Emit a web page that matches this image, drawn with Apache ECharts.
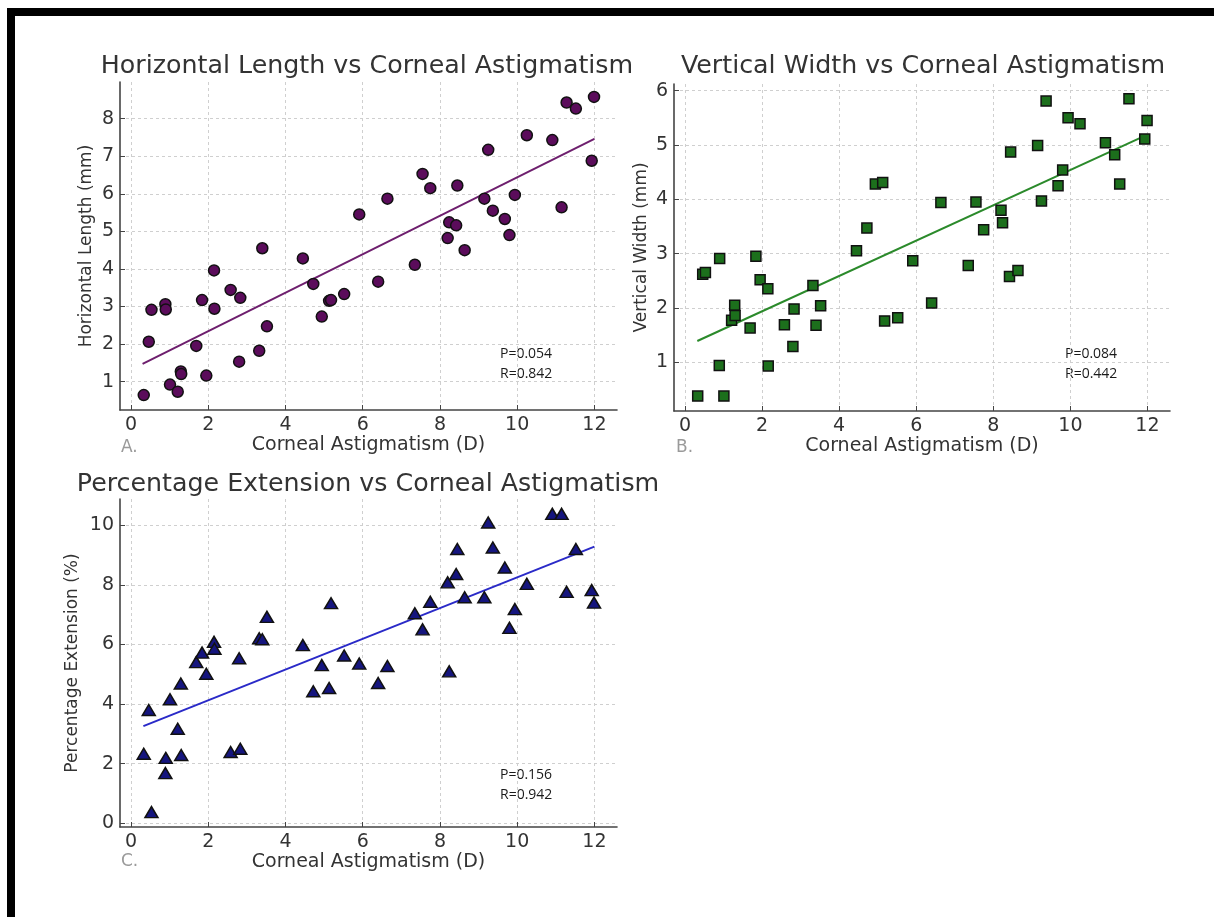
<!DOCTYPE html>
<html>
<head>
<meta charset="utf-8">
<title>Corneal Astigmatism</title>
<script src="https://cdn.jsdelivr.net/npm/echarts@6.0.0/dist/echarts.min.js"></script>
<style>
  html, body { margin: 0; padding: 0; background: #fff; }
  #chart { width: 1214px; height: 917px; }
</style>
</head>
<body>
<div id="chart"></div>
<script>
// Corneal astigmatism (D), shared by the three panels
const astigmatism = [0.33, 0.46, 0.53, 0.89, 0.90, 1.01, 1.21, 1.29, 1.30, 1.69,
  1.84, 1.95, 2.15, 2.16, 2.58, 2.80, 2.83, 3.32, 3.40, 3.52,
  4.45, 4.72, 4.94, 5.13, 5.18, 5.52, 5.91, 6.40, 6.64, 7.35,
  7.55, 7.75, 8.20, 8.24, 8.42, 8.45, 8.64, 9.15, 9.25, 9.37,
  9.68, 9.80, 9.94, 10.25, 10.91, 11.15, 11.28, 11.52, 11.93, 11.99];

const horizontalLength = [0.64, 2.06, 2.91, 3.06, 2.92, 0.92, 0.73, 1.27, 1.20, 1.95,
  3.17, 1.16, 3.96, 2.94, 3.44, 1.53, 3.23, 1.82, 4.55, 2.47,
  4.28, 3.60, 2.73, 3.15, 3.17, 3.33, 5.45, 3.66, 5.87, 4.11,
  6.53, 6.15, 4.82, 5.24, 5.16, 6.22, 4.50, 5.87, 7.17, 5.55,
  5.33, 4.90, 5.97, 7.56, 7.43, 5.64, 8.43, 8.27, 6.88, 8.58];

const verticalWidth = [0.375, 2.62, 2.65, 0.94, 2.91, 0.375, 1.77, 2.05, 1.86, 1.63,
  2.95, 2.52, 2.35, 0.93, 1.69, 1.29, 1.98, 2.41, 1.68, 2.04,
  3.05, 3.47, 4.28, 4.31, 1.76, 1.82, 2.87, 2.09, 3.94, 2.78,
  3.95, 3.44, 3.80, 3.57, 2.58, 4.87, 2.69, 4.99, 3.97, 5.81,
  4.25, 4.54, 5.50, 5.39, 5.04, 4.82, 4.28, 5.85, 5.11, 5.45];

const percentExtension = [2.33, 3.80, 0.37, 1.68, 2.19, 4.16, 3.17, 4.69, 2.29, 5.41,
  5.73, 5.02, 6.09, 5.86, 2.39, 5.54, 2.50, 6.21, 6.18, 6.93,
  5.98, 4.43, 5.31, 4.54, 7.39, 5.63, 5.36, 4.71, 5.28, 7.05,
  6.51, 7.44, 8.09, 5.10, 8.37, 9.21, 7.59, 7.59, 10.10, 9.26,
  8.59, 6.56, 7.19, 8.04, 10.39, 10.39, 7.77, 9.21, 7.83, 7.41];

// fitted line ends
const trendHorizontal = [[0.30, 1.47], [12.0, 7.46]];
const trendVertical = [[0.32, 1.39], [12.0, 5.19]];
const trendPercent = [[0.32, 3.26], [12.0, 9.29]];

// tick labels
const xTicks = [0, 2, 4, 6, 8, 10, 12];
const yTicksHorizontal = [1, 2, 3, 4, 5, 6, 7, 8];
const yTicksVertical = [1, 2, 3, 4, 5, 6];
const yTicksPercent = [0, 2, 4, 6, 8, 10];

const stats = {
  A: "P=0.054\nR=0.842",
  B: "P=0.084\nR=0.442",
  C: "P=0.156\nR=0.942",
};

const FONT = "DejaVu Sans";
const TEXT = "#333";

const zip = (xs, ys) => xs.map((x, i) => [x, ys[i]]);

const makeAxis = (gridIndex, min, max, ticks, extra) => ({
  type: "value",
  gridIndex,
  min,
  max,
  axisLine: { show: true, onZero: false, lineStyle: { color: "#444", width: 1.6 } },
  axisTick: { show: true, inside: true, length: 5, customValues: ticks, lineStyle: { color: "#444" } },
  axisLabel: { customValues: ticks, color: TEXT, fontFamily: FONT, fontSize: 19, margin: 6 },
  splitLine: { show: true, lineStyle: { color: "#cfcfcf", type: [3, 3], width: 1 } },
  nameLocation: "middle",
  nameTextStyle: { color: TEXT, fontFamily: FONT, fontSize: 17 },
  ...extra,
});

const xName = { name: "Corneal Astigmatism (D)", nameGap: 26, nameTextStyle: { color: TEXT, fontFamily: FONT, fontSize: 19 } };

const scatter = (i, data, symbol, size, fill) => ({
  type: "scatter",
  xAxisIndex: i,
  yAxisIndex: i,
  data,
  symbol,
  symbolSize: size,
  itemStyle: { color: fill, borderColor: "#111", borderWidth: 1.5, opacity: 1 },
  z: 3,
});

const trend = (i, data, color) => ({
  type: "line",
  xAxisIndex: i,
  yAxisIndex: i,
  data,
  symbol: "none",
  lineStyle: { color, width: 2 },
  z: 2,
});

const title = (text, x, y) => ({
  type: "text",
  x,
  y,
  style: { text, fill: TEXT, font: `25.3px "${FONT}"`, textAlign: "center", textVerticalAlign: "middle" },
});

const panelLetter = (text, x, y) => ({
  type: "text",
  x,
  y,
  style: { text, fill: "#9a9a9a", font: `17px "${FONT}"`, textVerticalAlign: "middle" },
});

const statBox = (text, x, y, w, h) => ({
  type: "group",
  z: 100,
  children: [
    { type: "rect", shape: { x, y, width: w, height: h }, style: { fill: "#fff" } },
    {
      type: "text",
      x: x + 13,
      y: y + 7,
      style: { text, fill: "#1a1a1a", font: '14px "Open Sans"', lineHeight: 20 },
    },
  ],
});

const chart = echarts.init(document.getElementById("chart"), null, { renderer: "canvas" });

chart.setOption({
  backgroundColor: "#fff",
  animation: false,
  grid: [
    { left: 120, top: 82, width: 497, height: 328 },
    { left: 674, top: 84, width: 496, height: 327 },
    { left: 120, top: 499, width: 497, height: 328 },
  ],
  xAxis: [
    makeAxis(0, -0.285, 12.585, xTicks, xName),
    makeAxis(1, -0.285, 12.585, xTicks, xName),
    makeAxis(2, -0.285, 12.585, xTicks, xName),
  ],
  yAxis: [
    makeAxis(0, 0.243, 8.977, yTicksHorizontal, { name: "Horizontal Length (mm)", nameGap: 25 }),
    makeAxis(1, 0.1, 6.124, yTicksVertical, { name: "Vertical Width (mm)", nameGap: 24 }),
    makeAxis(2, -0.131, 10.891, yTicksPercent, { name: "Percentage Extension (%)", nameGap: 39 }),
  ],
  series: [
    scatter(0, zip(astigmatism, horizontalLength), "circle", 11, "#5b0c5b"),
    trend(0, trendHorizontal, "#6e1f6e"),
    scatter(1, zip(astigmatism, verticalWidth), "rect", 10, "#1c6f1c"),
    trend(1, trendVertical, "#2b8a2b"),
    scatter(2, zip(astigmatism, percentExtension), "triangle", [13, 11], "#15157e"),
    trend(2, trendPercent, "#2a2ac8"),
  ],
  graphic: [
    // black frame strips along the top and left edge
    { type: "rect", shape: { x: 7, y: 8, width: 1207, height: 8 }, style: { fill: "#000" }, z: 200 },
    { type: "rect", shape: { x: 7, y: 8, width: 8, height: 909 }, style: { fill: "#000" }, z: 200 },

    title("Horizontal Length vs Corneal Astigmatism", 367, 66),
    title("Vertical Width vs Corneal Astigmatism", 923, 66),
    title("Percentage Extension vs Corneal Astigmatism", 368, 484),

    panelLetter("A.", 121, 448),
    panelLetter("B.", 676, 448),
    panelLetter("C.", 121, 862),

    statBox(stats.A, 487, 337, 126, 55),
    statBox(stats.B, 1052, 337, 117, 55),
    statBox(stats.C, 487, 758, 129, 60),
  ],
});
</script>
</body>
</html>
